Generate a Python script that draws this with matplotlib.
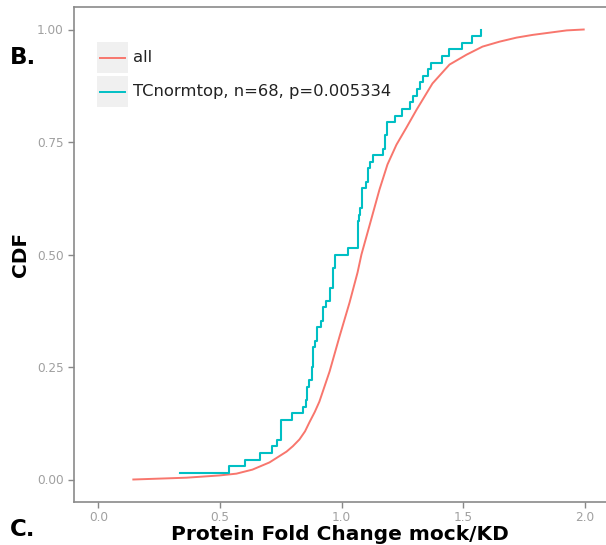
import numpy as np
import matplotlib
matplotlib.use('Agg')
import matplotlib.pyplot as plt
from matplotlib.patches import Rectangle
from matplotlib.lines import Line2D

plt.rcParams['font.family'] = ['DejaVu Sans']

# "all" ECDF
all_x = [0.144, 0.362, 0.498, 0.568, 0.634, 0.704, 0.774, 0.800, 0.827, 0.850, 0.868,
         0.890, 0.909, 0.951, 0.992, 1.033, 1.066, 1.082, 1.115, 1.156, 1.189, 1.226,
         1.267, 1.309, 1.374, 1.444, 1.514, 1.580, 1.650, 1.720, 1.786, 1.856, 1.926, 1.996]
all_cdf = [0.000, 0.004, 0.009, 0.013, 0.022, 0.038, 0.062, 0.074, 0.089, 0.107, 0.127,
           0.150, 0.173, 0.240, 0.318, 0.393, 0.460, 0.500, 0.564, 0.644, 0.700, 0.744,
           0.782, 0.822, 0.880, 0.922, 0.944, 0.962, 0.973, 0.982, 0.988, 0.993, 0.998, 1.000]

# TCnormtop fold changes (68 genes), read from the step positions
tc_x = [0.337, 0.539, 0.605, 0.663, 0.716, 0.733, 0.753, 0.753, 0.753, 0.798,
        0.840, 0.852, 0.860, 0.860, 0.868, 0.877, 0.877, 0.881, 0.881, 0.881,
        0.889, 0.901, 0.901, 0.914, 0.922, 0.922, 0.938, 0.951, 0.951, 0.963,
        0.963, 0.963, 0.975, 0.975, 1.025, 1.066, 1.066, 1.066, 1.066, 1.070,
        1.078, 1.086, 1.086, 1.086, 1.099, 1.107, 1.107, 1.119, 1.128, 1.169,
        1.177, 1.177, 1.189, 1.189, 1.218, 1.247, 1.280, 1.296, 1.309, 1.321,
        1.337, 1.354, 1.370, 1.412, 1.444, 1.494, 1.535, 1.572]

labels = ['all', 'TCnormtop, n=68, p=0.005334']
colors = ['#F8766D', '#00BFC4']
xticks = [0.0, 0.5, 1.0, 1.5, 2.0]
yticks = [0.00, 0.25, 0.50, 0.75, 1.00]

fig = plt.figure(figsize=(6.06, 5.45), dpi=100)
ax = fig.add_axes([74 / 606, 43 / 545, 535 / 606, 495 / 545])

ax.plot(all_x, all_cdf, color=colors[0], lw=1.4)
tc_sorted = np.sort(tc_x)
tc_cdf = np.arange(1, len(tc_sorted) + 1) / len(tc_sorted)
ax.step(tc_sorted, tc_cdf, where='post', color=colors[1], lw=1.5)

ax.set_xlim(-0.1, 2.1)
ax.set_ylim(-0.05, 1.05)
ax.set_xticks(xticks)
ax.set_xticklabels(['%.1f' % v for v in xticks])
ax.set_yticks(yticks)
ax.set_yticklabels(['%.2f' % v for v in yticks])
ax.tick_params(colors='#888888', labelcolor='#a0a0a0', labelsize=8.7, length=4, width=1)
ax.tick_params(axis='x', pad=2.5)
for s in ax.spines.values():
  s.set_color('#8a8a8a')
  s.set_linewidth(1.2)
ax.spines['right'].set_visible(False)

ax.set_xlabel('Protein Fold Change mock/KD', fontsize=14.5, fontweight='bold')
ax.xaxis.set_label_coords(0.497, -0.047)
ax.set_ylabel('CDF', fontsize=14.5, fontweight='bold')
ax.yaxis.set_label_coords(-0.083, 0.5)

# legend drawn by hand, ggplot style keys
for i, (lab, c) in enumerate(zip(labels, colors)):
  top = 42 + i * 34
  fig.patches.append(Rectangle((97 / 606, 1 - (top + 31) / 545), 31 / 606, 31 / 545,
                               transform=fig.transFigure, facecolor='#f0f0f0',
                               edgecolor='none', zorder=3))
  yc = 1 - (top + 15.5) / 545
  fig.lines.append(Line2D([100 / 606, 125 / 606], [yc, yc], transform=fig.transFigure,
                          color=c, lw=1.4, zorder=4))
  fig.text(133 / 606, yc, lab, fontsize=11.8, color='#222222', va='center', ha='left')

fig.text(10 / 606, 1 - 57.5 / 545, 'B.', fontsize=16.5, fontweight='bold', va='center', ha='left')
fig.text(10 / 606, 1 - 529 / 545, 'C.', fontsize=16.5, fontweight='bold', va='center', ha='left')

fig.savefig('out.png', dpi=100)
